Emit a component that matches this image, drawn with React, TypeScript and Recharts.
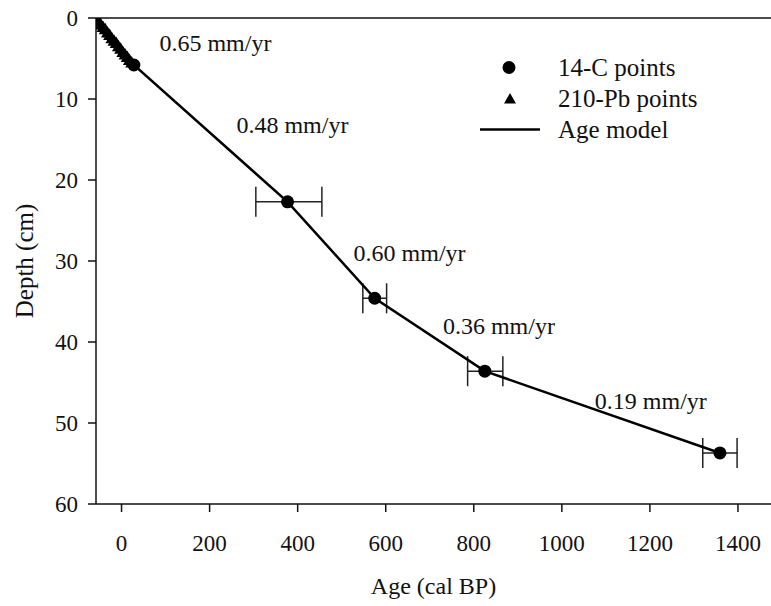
import React from 'react'
import { ComposedChart, Scatter, XAxis, YAxis, ErrorBar, ReferenceLine, ReferenceDot, Legend } from 'recharts'

const FONT = 'Liberation Serif, Times New Roman, serif'
const INK = '#111'

// 14-C dated levels (age cal BP, depth cm, 2-sided age error)
const c14Age = [28, 377, 575, 825, 1359]
const c14Depth = [5.8, 22.7, 34.6, 43.6, 53.7]
const c14ErrLow = [null, 72, 27, 39, 39]
const c14ErrHigh = [null, 78, 27, 41, 39]

// 210-Pb dated levels
const pbAge = [-57, -52, -47, -42, -37, -32, -27, -22, -17, -12, -7, -2, 3, 8, 13, 18, 23]
const pbDepth = [0.1, 0.4, 0.8, 1.1, 1.4, 1.8, 2.1, 2.5, 2.8, 3.1, 3.5, 3.8, 4.2, 4.5, 4.8, 5.2, 5.5]

// age model nodes
const modelAge = [-58, 28, 377, 575, 825, 1359]
const modelDepth = [0, 5.8, 22.7, 34.6, 43.6, 53.7]

// accumulation rate labels
const rateText = ['0.65 mm/yr', '0.48 mm/yr', '0.60 mm/yr', '0.36 mm/yr', '0.19 mm/yr']
const rateAge = [86, 261, 527, 730, 1075]
const rateDepth = [3.0, 13.1, 29.0, 38.0, 47.2]

const xTicks = [0, 200, 400, 600, 800, 1000, 1200, 1400]
const yTicks = [0, 10, 20, 30, 40, 50, 60]

const c14Data = c14Age.map((age, i) => ({
  age,
  depth: c14Depth[i],
  err: c14ErrLow[i] == null ? undefined : [c14ErrLow[i], c14ErrHigh[i]],
}))
const pbData = pbAge.map((age, i) => ({ age, depth: pbDepth[i] }))
const modelData = modelAge.map((age, i) => ({ age, depth: modelDepth[i] }))

const Circle = (props: any) => <circle cx={props.cx} cy={props.cy} r={6.5} fill="#000" />
const Triangle = (props: any) => {
  const { cx, cy } = props
  return <polygon points={`${cx - 6.5},${cy + 5} ${cx + 6.5},${cy + 5} ${cx},${cy - 6.5}`} fill="#000" />
}
const NoDot = () => <g />

const legendRows = ['14-C points', '210-Pb points', 'Age model']

function LegendBox() {
  return (
    <div style={{ fontFamily: FONT, fontSize: 25, color: INK }}>
      {legendRows.map((name) => (
        <div key={name} style={{ display: 'flex', alignItems: 'center', height: 31 }}>
          <svg width={78} height={31}>
            {name === '14-C points' && <circle cx={29} cy={15.5} r={6.5} fill="#000" />}
            {name === '210-Pb points' && <polygon points="24,20.5 36,20.5 30,10" fill="#000" />}
            {name === 'Age model' && <line x1={0} x2={60} y1={15.5} y2={15.5} stroke="#000" strokeWidth={2.5} />}
          </svg>
          <span style={{ lineHeight: '31px' }}>{name}</span>
        </div>
      ))}
    </div>
  )
}

const tickStyle = { fill: INK, fontSize: 23, fontFamily: FONT }

export default function App() {
  return (
    <div style={{ position: 'absolute', left: 0, top: 0, width: 771, height: 606, background: '#fff', fontFamily: FONT }}>
      <ComposedChart width={771} height={606} margin={{ top: 18, right: 0, left: 0, bottom: 0 }} style={{ fontFamily: FONT }}>
        <XAxis
          dataKey="age"
          type="number"
          domain={[-58, 1475]}
          ticks={xTicks}
          allowDataOverflow
          height={102}
          tickSize={8}
          tickMargin={23}
          stroke={INK}
          strokeWidth={1.5}
          tick={tickStyle}
          label={{ value: 'Age (cal BP)', position: 'insideBottom', offset: 12, fill: INK, fontSize: 24, fontFamily: FONT }}
        />
        <YAxis
          dataKey="depth"
          type="number"
          domain={[0, 60]}
          ticks={yTicks}
          reversed
          allowDataOverflow
          width={96}
          tickSize={8}
          tickMargin={10}
          stroke={INK}
          strokeWidth={1.5}
          tick={tickStyle}
          label={{ value: 'Depth (cm)', angle: -90, position: 'insideLeft', offset: 24, fill: INK, fontSize: 25, fontFamily: FONT, style: { textAnchor: 'middle' } }}
        />
        <ReferenceLine y={0} stroke={INK} strokeWidth={1.5} />
        <Scatter
          name="Age model"
          data={modelData}
          line={{ stroke: '#000', strokeWidth: 2.5 }}
          shape={NoDot}
          legendType="line"
          isAnimationActive={false}
        />
        <Scatter name="210-Pb points" data={pbData} shape={Triangle} legendType="triangle" isAnimationActive={false} />
        <Scatter name="14-C points" data={c14Data} shape={Circle} legendType="circle" isAnimationActive={false}>
          <ErrorBar dataKey="err" direction="x" width={15} stroke="#222" strokeWidth={1.5} isAnimationActive={false} />
        </Scatter>
        {rateText.map((t, i) => (
          <ReferenceDot
            key={t}
            x={rateAge[i]}
            y={rateDepth[i]}
            r={0}
            fill="none"
            stroke="none"
            label={{ value: t, position: 'right', offset: 0, fill: INK, fontSize: 24, fontFamily: FONT }}
          />
        ))}
        <Legend
          layout="vertical"
          verticalAlign="middle"
          align="center"
          wrapperStyle={{ left: 480, top: 52, width: 260 }}
          content={() => <LegendBox />}
        />
      </ComposedChart>
    </div>
  )
}
